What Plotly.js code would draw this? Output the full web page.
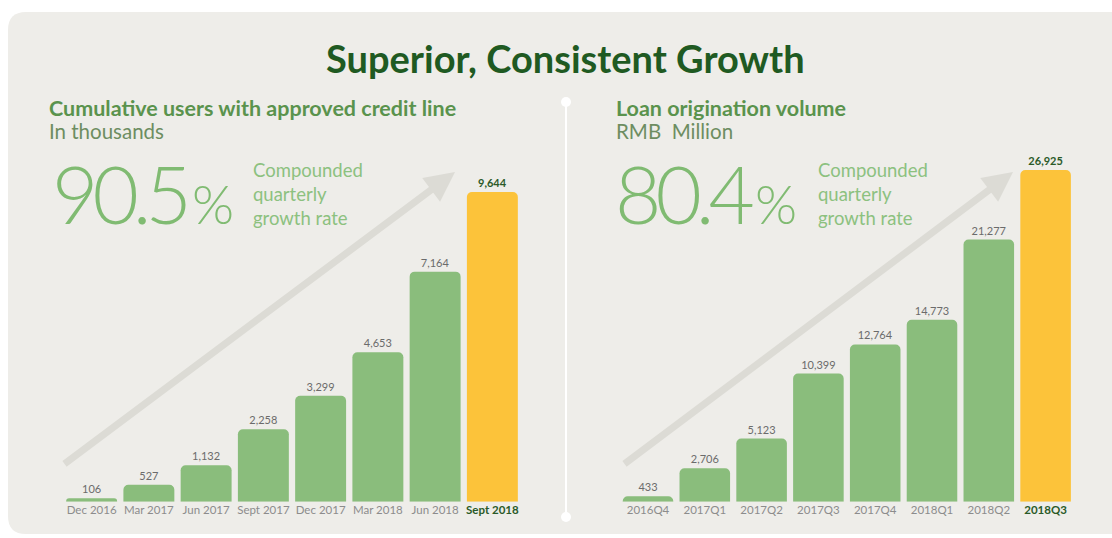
<!DOCTYPE html>
<html>
<head>
<meta charset="utf-8">
<script src="https://cdn.plot.ly/plotly-3.0.1.min.js"></script>
<style>html,body{margin:0;padding:0;background:#fff;}#chart{width:1112px;height:538px;}</style>
</head>
<body>
<div id="chart"></div>
<script>
// ---- data ----
const usersPeriods = ["Dec 2016","Mar 2017","Jun 2017","Sept 2017","Dec 2017","Mar 2018","Jun 2018","Sept 2018"];
const usersValues  = [106, 527, 1132, 2258, 3299, 4653, 7164, 9644];
const loanPeriods  = ["2016Q4","2017Q1","2017Q2","2017Q3","2017Q4","2018Q1","2018Q2","2018Q3"];
const loanValues   = [433, 2706, 5123, 10399, 12764, 14773, 21277, 26925];
const usersGrowth = "90.5";
const loanGrowth  = "80.4";

// ---- styles ----
const W = 1112, H = 538;
const px = x => x / W, py = y => 1 - y / H;
const GREEN = '#8abd7c', YELLOW = '#fcc33a', DARK = '#2a5a28';
const FONT = 'Lato, "Open Sans", sans-serif';

function barColors(vals){ return vals.map((v,i)=> i===vals.length-1 ? YELLOW : GREEN); }
function barText(vals){ return vals.map((v,i)=>{ const s=v.toLocaleString('en-US'); return i===vals.length-1 ? '<b>'+s+'</b>' : s; }); }
function textColors(vals){ return vals.map((v,i)=> i===vals.length-1 ? DARK : '#6b6b6b'); }
function tickText(cats){ return cats.map((c,i)=> i===cats.length-1 ? '<b><span style="color:'+DARK+'">'+c+'</span></b>' : c); }

const traces = [
  {type:'bar', x:usersPeriods, y:usersValues, xaxis:'x', yaxis:'y',
   marker:{color:barColors(usersValues), cornerradius:5},
   text:barText(usersValues), textposition:'outside', cliponaxis:false,
   textfont:{family:FONT, size:11, color:textColors(usersValues)}, hoverinfo:'skip'},
  {type:'bar', x:loanPeriods, y:loanValues, xaxis:'x2', yaxis:'y2',
   marker:{color:barColors(loanValues), cornerradius:5},
   text:barText(loanValues), textposition:'outside', cliponaxis:false,
   textfont:{family:FONT, size:11, color:textColors(loanValues)}, hoverinfo:'skip'}
];

const yDom = [36.3/H, 1-100/H];
const axX = (dom, cats) => ({domain:dom, type:'category', showgrid:false, zeroline:false, showline:false,
  ticks:'', tickvals:cats, ticktext:tickText(cats), tickfont:{family:FONT, size:11.5, color:'#8c8c8c'}, fixedrange:true});
const axY = (range, anchor) => ({domain:yDom, range:range, visible:false, fixedrange:true, anchor:anchor});

const ann = [];
function txt(t,x,y,size,color,opts){ ann.push(Object.assign({text:t, xref:'paper', yref:'paper', x:px(x), y:py(y),
  xanchor:'left', yanchor:'middle', showarrow:false, align:'left', font:{family:FONT, size:size, color:color}}, opts||{})); }

const bigNum = g => '<span style="letter-spacing:-6px">'+g.slice(0,-1)+'</span>'+g.slice(-1)+'<span style="font-size:54px">%</span>';
txt('<b>Superior, Consistent Growth</b>', 565, 58, 38, '#1f5a22', {xanchor:'center'});
txt('<b>Cumulative users with approved credit line</b>', 47, 108, 21.5, '#5a934d');
txt('In thousands', 47, 131, 20.5, '#6d8d61');
txt('<b>Loan origination volume</b>', 614, 108, 21.5, '#5a934d');
txt('RMB  Million', 614, 131, 20.5, '#6d8d61');
txt(bigNum(usersGrowth), 50, 193, 80, '#80bb72', {font:{family:FONT, size:80, color:'#80bb72', weight:300}});
txt(bigNum(loanGrowth), 613, 193, 80, '#80bb72', {font:{family:FONT, size:80, color:'#80bb72', weight:300}});
txt('Compounded<br>quarterly<br>growth rate', 251, 194, 18.5, '#8cc17f');
txt('Compounded<br>quarterly<br>growth rate', 816, 194, 18.5, '#8cc17f');

// arrows
function arrow(x0,y0,x1,y1){ ann.push({text:'', xref:'paper', yref:'paper', x:px(x1), y:py(y1), axref:'pixel', ayref:'pixel',
  ax:x0-x1, ay:y0-y1, showarrow:true, arrowhead:2, arrowsize:0.85, arrowwidth:7, arrowcolor:'#dcdbd5', standoff:0}); }
arrow(63,465,455,172);
arrow(623,465,1013,172);

const shapes = [
  {type:'path', xref:'paper', yref:'paper', layer:'below', line:{width:0}, fillcolor:'#eeede9',
   path:`M ${px(8)},${py(30)} Q ${px(8)},${py(12)} ${px(26)},${py(12)} L ${px(1130)},${py(12)} L ${px(1130)},${py(534)} L ${px(26)},${py(534)} Q ${px(8)},${py(534)} ${px(8)},${py(516)} Z`},
  {type:'line', xref:'paper', yref:'paper', x0:px(566), x1:px(566), y0:py(102), y1:py(517), line:{color:'#ffffff', width:2}, layer:'below'},
  {type:'circle', xref:'paper', yref:'paper', x0:px(561), x1:px(571), y0:py(97), y1:py(107), fillcolor:'#ffffff', line:{width:0}, layer:'below'},
  {type:'circle', xref:'paper', yref:'paper', x0:px(561), x1:px(571), y0:py(512), y1:py(522), fillcolor:'#ffffff', line:{width:0}, layer:'below'}
];

const layout = {
  width:W, height:H, margin:{l:0,r:0,t:0,b:0}, paper_bgcolor:'#ffffff', plot_bgcolor:'rgba(0,0,0,0)',
  showlegend:false, bargap:0.11, font:{family:FONT},
  xaxis:axX([63/W, 521/W], usersPeriods), yaxis:axY([0, 12509], 'x'),
  xaxis2:axX([619.6/W, 1074/W], loanPeriods), yaxis2:axY([0, 32607], 'x2'),
  annotations:ann, shapes:shapes
};
Plotly.newPlot('chart', traces, layout, {displayModeBar:false, staticPlot:true});
</script>
</body>
</html>
